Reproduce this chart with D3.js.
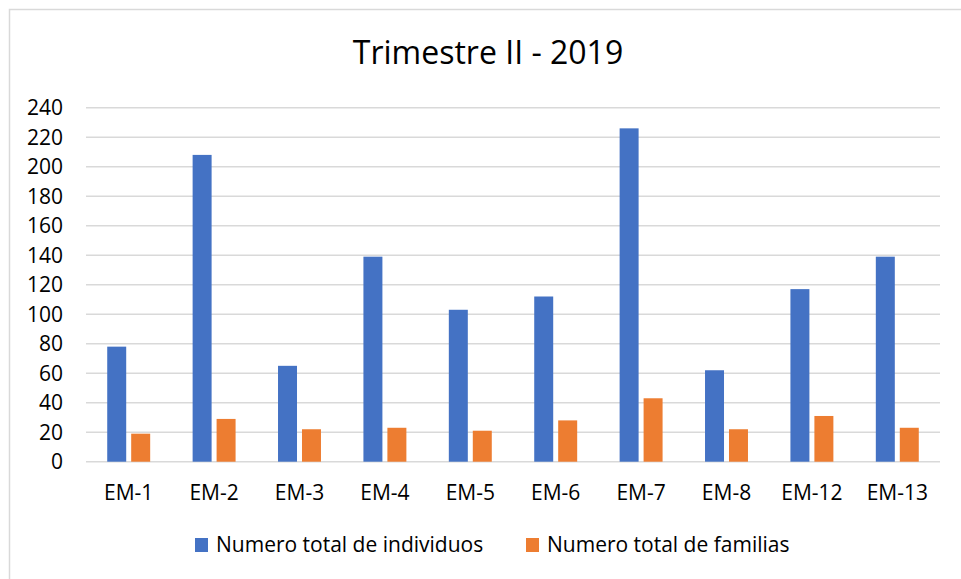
<!DOCTYPE html>
<html>
<head>
<meta charset="utf-8">
<script src="https://cdn.jsdelivr.net/npm/d3@7"></script>
<style>
  body { margin: 0; background: #fff; }
  text { font-family: "Open Sans", "Noto Sans", sans-serif; fill: #000; }
</style>
</head>
<body>
<div id="chart"></div>
<script>
// data
var categories = ["EM-1", "EM-2", "EM-3", "EM-4", "EM-5", "EM-6", "EM-7", "EM-8", "EM-12", "EM-13"]
var individuos = [78, 208, 65, 139, 103, 112, 226, 62, 117, 139]
var familias = [19, 29, 22, 23, 21, 28, 43, 22, 31, 23]
var seriesNames = ["Numero total de individuos", "Numero total de familias"]
var yTicks = [0, 20, 40, 60, 80, 100, 120, 140, 160, 180, 200, 220, 240]

var width = 961, height = 579
var colors = ["#4472C4", "#ED7D31"]

var svg = d3.select("#chart").append("svg")
    .attr("width", width)
    .attr("height", height)
    .style("display", "block")

// chart frame (runs off the right and bottom edge)
svg.append("rect")
    .attr("x", 9.5).attr("y", 9.5)
    .attr("width", 970).attr("height", 590)
    .attr("fill", "#fff")
    .attr("stroke", "#d9d9d9")
    .attr("stroke-width", 1.5)

svg.append("text")
    .attr("x", 488).attr("y", 64)
    .attr("text-anchor", "middle")
    .style("font-size", "32px")
    .text("Trimestre II - 2019")

var x = d3.scaleBand()
    .domain(categories)
    .range([86, 940])
    .paddingInner(0.497)
    .paddingOuter(0.2485)

var xs = d3.scaleBand()
    .domain(seriesNames)
    .range([0, x.bandwidth()])
    .paddingInner(0.208)
    .paddingOuter(0)

var y = d3.scaleLinear().domain([0, 240]).range([461.7, 107.7])

// gridlines
svg.append("g").selectAll("line")
    .data(yTicks)
    .enter().append("line")
    .attr("x1", 86).attr("x2", 940)
    .attr("y1", function(d) { return y(d) }).attr("y2", function(d) { return y(d) })
    .attr("stroke", "#d9d9d9")
    .attr("stroke-width", 1.5)

svg.append("g").selectAll("text")
    .data(yTicks)
    .enter().append("text")
    .attr("x", 63)
    .attr("y", function(d) { return y(d) })
    .attr("dy", "0.36em")
    .attr("text-anchor", "end")
    .style("font-size", "21px")
    .text(function(d) { return d })

var rows = categories.map(function(c, i) {
  return { cat: c, vals: [individuos[i], familias[i]] }
})

var groups = svg.append("g").selectAll("g")
    .data(rows)
    .enter().append("g")
    .attr("transform", function(d) { return "translate(" + x(d.cat) + ",0)" })

groups.selectAll("rect")
    .data(function(d) { return d.vals.map(function(v, j) { return { name: seriesNames[j], v: v, j: j } }) })
    .enter().append("rect")
    .attr("x", function(d) { return xs(d.name) })
    .attr("width", xs.bandwidth())
    .attr("y", function(d) { return y(d.v) })
    .attr("height", function(d) { return y(0) - y(d.v) })
    .attr("fill", function(d) { return colors[d.j] })

// x labels
svg.append("g").selectAll("text")
    .data(categories)
    .enter().append("text")
    .attr("x", function(d) { return x(d) + x.bandwidth() / 2 })
    .attr("y", 500)
    .attr("text-anchor", "middle")
    .style("font-size", "21px")
    .text(function(d) { return d })

// legend
var legendX = [195, 526]
var legend = svg.append("g").selectAll("g")
    .data(seriesNames)
    .enter().append("g")
    .attr("transform", function(d, i) { return "translate(" + legendX[i] + ",538)" })

legend.append("rect")
    .attr("width", 13).attr("height", 14)
    .attr("fill", function(d, i) { return colors[i] })

legend.append("text")
    .attr("x", 21).attr("y", 14)
    .style("font-size", "21px")
    .text(function(d) { return d })
</script>
</body>
</html>
